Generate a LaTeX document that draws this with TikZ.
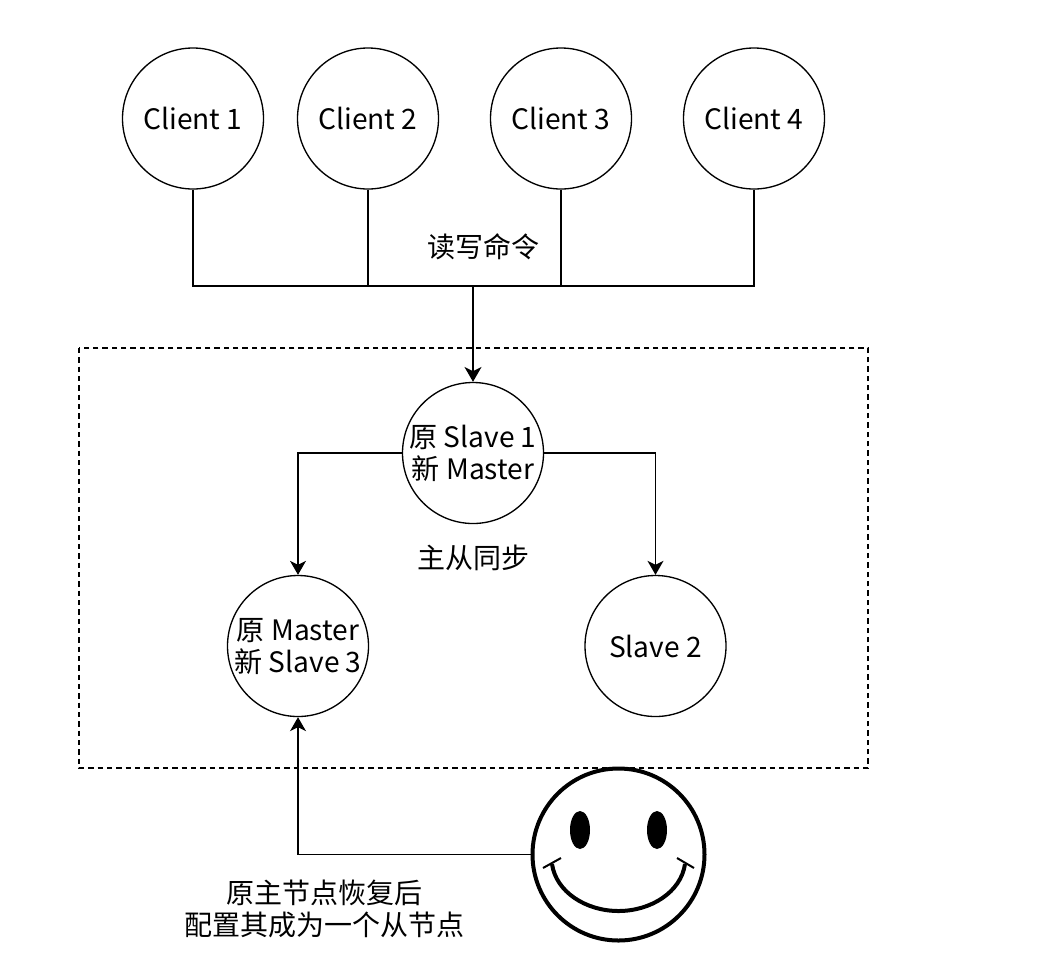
\documentclass[tikz,border=0pt]{standalone}
\usepackage{fontspec}
\setmainfont{Noto Sans CJK SC}
\usetikzlibrary{arrows.meta}
\tikzset{
 x=0.75pt,y=-0.75pt,
 circ/.style={circle,draw,line width=1pt,minimum size=105.75pt,inner sep=0pt,align=center,font=\fontsize{21.1pt}{24pt}\selectfont},
 lbl/.style={inner sep=0pt,align=center,font=\fontsize{21pt}{24.5pt}\selectfont},
 conn/.style={line width=0.95pt},
 arr/.style={line width=1pt,-{Stealth[length=10.5pt,width=12pt,inset=3pt]}},
 thickarr/.style={line width=1.9pt,-{Stealth[length=11pt,width=12.5pt,inset=3pt]}},
 faceline/.style={line width=3pt},
}
\begin{document}
\begin{tikzpicture}
\useasboundingbox (0,0) rectangle (1063,958);
\node[circ] (c1) at (193,118.5) {Client 1};
\node[circ] (c2) at (368,118.5) {Client 2};
\node[circ] (c3) at (561,118.5) {Client 3};
\node[circ] (c4) at (754,118.5) {Client 4};
\coordinate (j) at (473,286);
\node[lbl] (l1) at (483,247) {读写命令};
\draw[dashed,line width=1pt,dash pattern=on 4pt off 3pt] (79,348) rectangle (868,768);
\node[circ] (m) at (473,453) {原 Slave 1\\新 Master};
\node[circ] (s3) at (298,646) {原 Master\\新 Slave 3};
\node[circ] (s2) at (655.5,646) {Slave 2};
\node[lbl] (l2) at (473,558) {主从同步};
\draw[conn] (c1.south) |- (j);
\draw[conn] (c2.south) |- (j);
\draw[conn] (c3.south) |- (j);
\draw[conn] (c4.south) |- (j);
\draw[thickarr] (j) -- (m.north);
\draw[arr] (m.west) -| (s3.north);
\draw[arr] (m.east) -| (s2.north);
% smiley
\node[circle,draw,faceline,minimum size=129pt,inner sep=0pt] (face) at (618.5,854.5) {};
\fill (580,830) ellipse (10 and 19);
\fill (657,830) ellipse (10 and 19);
\draw[faceline] (552,864) .. controls (556,892) and (586,911) .. (618.5,911) .. controls (651,911) and (681,892) .. (685,864);
\draw[line width=1.5pt] (543,868) -- (561,858);
\draw[line width=1.5pt] (694,868) -- (677,858);
\draw[arr] (face.west) -| (s3.south);
\node[lbl] (l3) at (324,909) {原主节点恢复后\\配置其成为一个从节点};
\end{tikzpicture}
\end{document}
